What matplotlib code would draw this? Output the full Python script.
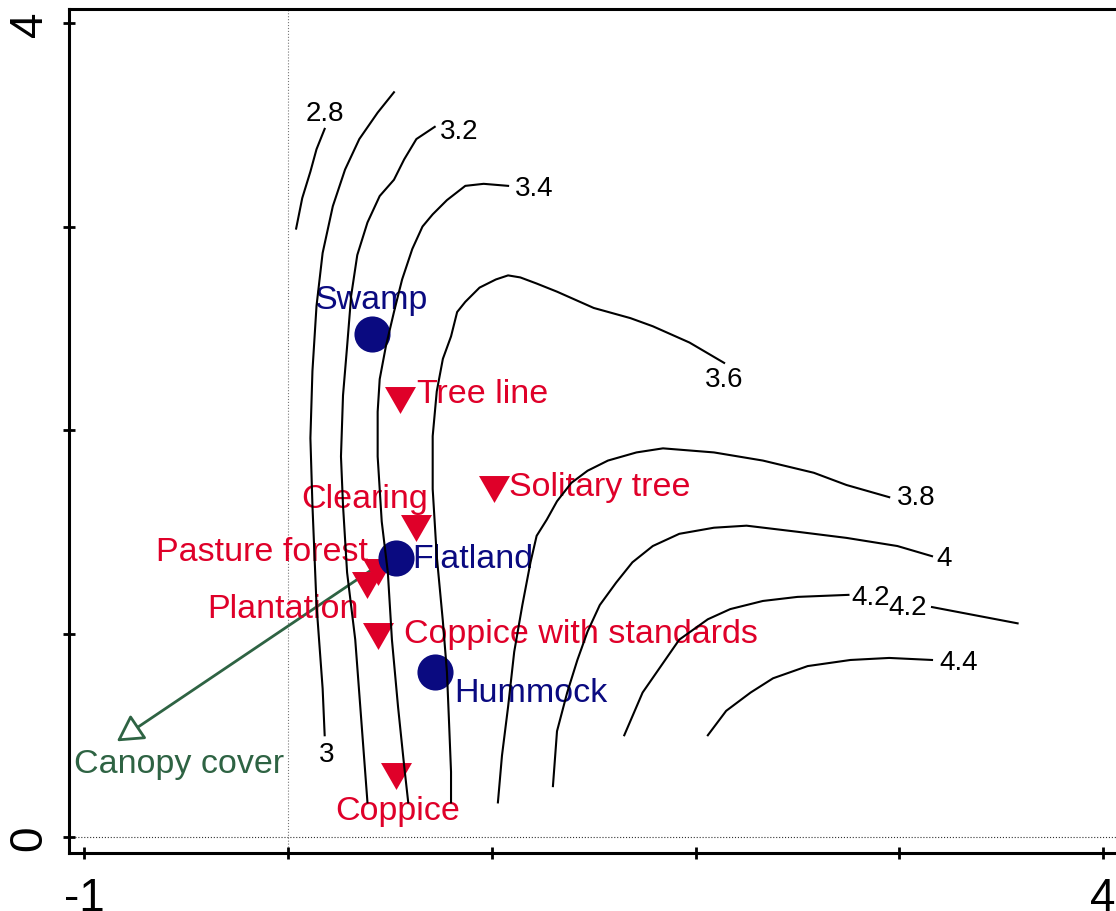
import matplotlib
matplotlib.use('Agg')
import matplotlib.pyplot as plt

plt.rcParams['font.family'] = ['Liberation Sans', 'DejaVu Sans']

# sample scores (blue circles)
sample_names = ['Swamp', 'Flatland', 'Hummock']
sample_x = [0.41, 0.53, 0.72]
sample_y = [2.47, 1.37, 0.81]

# supplementary variables (red triangles)
sup_names = ['Tree line', 'Solitary tree', 'Clearing', 'Pasture forest',
             'Plantation', 'Coppice with standards', 'Coppice']
sup_x = [0.55, 1.01, 0.63, 0.44, 0.39, 0.44, 0.53]
sup_y = [2.15, 1.71, 1.52, 1.30, 1.24, 0.99, 0.30]

# environmental arrow
arrow_name = 'Canopy cover'
arrow_from = (0.48, 1.36)
arrow_to = (-0.84, 0.47)

# fitted response contours (traced)
contour_levels = ['2.8', '3', '3.2', '3.4', '3.6', '3.8', '4', '4.2', '4.2', '4.4']
c28_x = [0.04, 0.07, 0.11, 0.14, 0.18]
c28_y = [2.99, 3.14, 3.27, 3.38, 3.48]
c30_x = [0.18, 0.17, 0.14, 0.12, 0.11, 0.12, 0.14, 0.17, 0.22, 0.28, 0.35, 0.44, 0.52]
c30_y = [0.50, 0.73, 1.14, 1.63, 1.96, 2.29, 2.61, 2.87, 3.10, 3.28, 3.43, 3.56, 3.66]
c32_x = [0.72, 0.63, 0.57, 0.52, 0.45, 0.39, 0.34, 0.31, 0.29, 0.27, 0.26, 0.27,
         0.29, 0.33, 0.36, 0.39]
c32_y = [3.49, 3.43, 3.33, 3.23, 3.15, 3.02, 2.86, 2.66, 2.41, 2.17, 1.87, 1.63,
         1.30, 0.97, 0.57, 0.17]
c34_x = [1.08, 0.96, 0.87, 0.78, 0.71, 0.66, 0.61, 0.56, 0.52, 0.48, 0.45, 0.44,
         0.44, 0.46, 0.49, 0.51, 0.54, 0.57, 0.59]
c34_y = [3.20, 3.21, 3.20, 3.13, 3.06, 3.00, 2.89, 2.74, 2.58, 2.41, 2.25, 2.09,
         1.87, 1.55, 1.30, 0.97, 0.64, 0.35, 0.17]
c36_x = [2.14, 1.97, 1.79, 1.68, 1.50, 1.32, 1.22, 1.14, 1.08, 1.02, 0.94, 0.87,
         0.83, 0.80, 0.76, 0.73, 0.71, 0.71, 0.73, 0.76, 0.78, 0.79, 0.80, 0.80]
c36_y = [2.33, 2.43, 2.51, 2.55, 2.60, 2.68, 2.72, 2.75, 2.76, 2.74, 2.70, 2.63,
         2.58, 2.46, 2.35, 2.19, 1.97, 1.71, 1.38, 1.06, 0.81, 0.57, 0.32, 0.17]
c38_x = [2.95, 2.74, 2.58, 2.33, 2.09, 1.84, 1.71, 1.57, 1.47, 1.39, 1.32, 1.27,
         1.22, 1.19, 1.15, 1.11, 1.08, 1.05, 1.03]
c38_y = [1.67, 1.73, 1.79, 1.85, 1.89, 1.91, 1.89, 1.85, 1.80, 1.74, 1.65, 1.56,
         1.48, 1.35, 1.14, 0.91, 0.64, 0.40, 0.17]
c40_x = [3.16, 2.99, 2.74, 2.50, 2.25, 2.09, 1.92, 1.79, 1.69, 1.61, 1.53, 1.47,
         1.42, 1.37, 1.32, 1.30]
c40_y = [1.38, 1.43, 1.47, 1.50, 1.53, 1.52, 1.49, 1.43, 1.35, 1.25, 1.14, 1.01,
         0.87, 0.71, 0.52, 0.25]
c42a_x = [2.75, 2.50, 2.33, 2.17, 2.06, 1.92, 1.83, 1.74, 1.65]
c42a_y = [1.19, 1.18, 1.16, 1.12, 1.07, 0.97, 0.84, 0.71, 0.50]
c42b_x = [3.16, 3.58]
c42b_y = [1.13, 1.05]
c44_x = [3.16, 2.95, 2.76, 2.55, 2.38, 2.27, 2.15, 2.06]
c44_y = [0.87, 0.88, 0.87, 0.84, 0.78, 0.71, 0.62, 0.50]

# where each contour value is written
label_x = [0.18, 0.19, 0.84, 1.21, 2.14, 3.08, 3.22, 2.86, 3.04, 3.29]
label_y = [3.56, 0.41, 3.47, 3.19, 2.25, 1.67, 1.37, 1.18, 1.13, 0.86]

RED = '#DF0029'
NAVY = '#0A0A80'
GREEN = '#2E6343'

fig = plt.figure(figsize=(11.16, 9.12), dpi=100)
ax = fig.add_axes([0.0618, 0.0636, 0.940, 0.9254])
ax.set_xlim(-1.0746, 4.0726)
ax.set_ylim(-0.0786, 4.069)

ax.axvline(0, color='#777777', lw=0.8, ls=':', zorder=0)
ax.axhline(0, color='#333333', lw=0.8, ls=':', zorder=0)

# arrow
ax.annotate('', xy=arrow_to, xytext=arrow_from,
            arrowprops=dict(arrowstyle='-|>,head_length=0.8,head_width=0.45',
                            mutation_scale=20, color=GREEN, fc='white', lw=2,
                            shrinkA=0, shrinkB=0), zorder=2)
ax.annotate(arrow_name, xy=arrow_to, xytext=(-31, -22), textcoords='offset points',
            ha='left', va='baseline', fontsize=24.5, color=GREEN, zorder=2)

# markers
tri = [(-1, 0.87), (1, 0.87), (0, -0.87)]
ax.plot(sup_x, sup_y, ls='none', marker=tri, ms=22.3, color=RED, mec='none', zorder=3)
ax.plot(sample_x, sample_y, ls='none', marker='o', ms=26, color=NAVY, mec='none', zorder=3)

sample_off = [((0, 19), 'center'), ((12, -6), 'left'), ((14, -21), 'left')]
for name, x, y, (off, ha) in zip(sample_names, sample_x, sample_y, sample_off):
    ax.annotate(name, (x, y), xytext=off, textcoords='offset points', ha=ha,
                va='baseline', fontsize=24.5, color=NAVY, zorder=4)

sup_off = [((12, -2), 'left'), ((11, -4), 'left'), ((-37, 15), 'center'),
           ((-7, 9), 'right'), ((-6, -23), 'right'), ((19, -5), 'left'),
           ((1, -31), 'center')]
for name, x, y, (off, ha) in zip(sup_names, sup_x, sup_y, sup_off):
    ax.annotate(name, (x, y), xytext=off, textcoords='offset points', ha=ha,
                va='baseline', fontsize=24.5, color=RED, zorder=4)

# contours on top
for cx, cy in [(c28_x, c28_y), (c30_x, c30_y), (c32_x, c32_y), (c34_x, c34_y),
               (c36_x, c36_y), (c38_x, c38_y), (c40_x, c40_y), (c42a_x, c42a_y),
               (c42b_x, c42b_y), (c44_x, c44_y)]:
    ax.plot(cx, cy, color='black', lw=1.5, zorder=5, solid_joinstyle='round')
for lab, x, y in zip(contour_levels, label_x, label_y):
    ax.text(x, y, lab, ha='center', va='center', fontsize=20, color='black', zorder=5)

# axes styling
for s in ax.spines.values():
    s.set_linewidth(2.2)
ax.set_xticks([-1, 0, 1, 2, 3, 4])
ax.set_xticklabels(['-1', '', '', '', '', '4'])
ax.set_yticks([0, 1, 2, 3, 4])
ax.set_yticklabels(['0', '', '', '', '4'], rotation=90, va='center')
ax.tick_params(direction='inout', length=9, width=2, labelsize=33)
ax.tick_params(axis='x', pad=12)
ax.tick_params(axis='y', pad=8)

fig.savefig('out.png', dpi=100)
